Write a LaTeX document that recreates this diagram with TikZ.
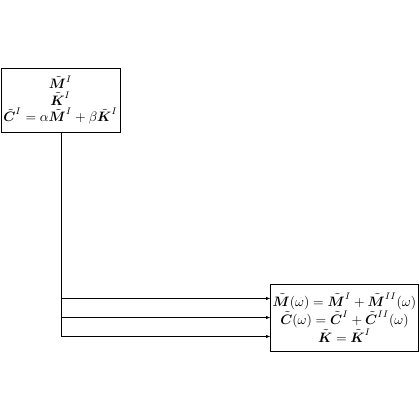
\documentclass[tikz,border=0pt]{standalone}
\usepackage{bm}
\usetikzlibrary{arrows.meta}
\newcommand{\tb}[1]{\tilde{\bm #1}}
\newcommand{\su}[1]{^{\raisebox{1.3pt}{$\scriptstyle #1$}}}
\begin{document}
\begin{tikzpicture}[x=0.733pt,y=-0.733pt,
  blk/.style={draw,line width=0.5pt,align=center,inner sep=1.5pt},
  conn/.style={line width=0.5pt,-{Latex[length=3pt,width=2.4pt]}}]
\useasboundingbox (0,0) rectangle (420,420);
\node[blk,minimum width=119*0.733pt,minimum height=64*0.733pt] (a) at (60.5,100)
  {$\tb{M}\su{I}$\\ $\tb{K}\su{I}$\\ $\tb{C}\su{I}=\alpha\tb{M}\su{I}+\beta\tb{K}\su{I}$};
\node[blk,minimum width=147*0.733pt,minimum height=67*0.733pt] (b) at (344.5,317.5)
  {$\tb{M}(\omega)=\tb{M}\su{I}+\tb{M}\su{II}(\omega)$\\ $\tb{C}(\omega)=\tb{C}\su{I}+\tb{C}\su{II}(\omega)$\\ $\tb{K}=\tb{K}\su{I}$};
\coordinate (j) at ([xshift=1*0.733pt]a.south);
\draw[line width=0.5pt] (j) -- ++(0,204);
\draw[conn] (j) |- ([yshift=19*0.733pt]b.west);
\draw[conn] (j) |- (b.west);
\draw[conn] (j) |- ([yshift=-19*0.733pt]b.west);
\end{tikzpicture}
\end{document}
